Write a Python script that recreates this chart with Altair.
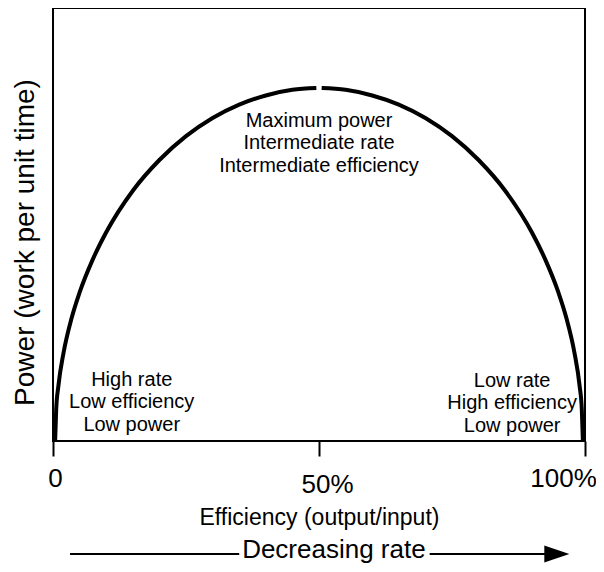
import altair as alt
import pandas as pd

FONT = "Liberation Sans"

# Curve (efficiency %, power in % of frame height)
efficiency = [0.4, 0.6, 1, 2, 3.5, 5, 7.5, 10, 15, 20, 25, 30, 35, 40, 45, 49.5,
              50.5, 55, 60, 65, 70, 75, 80, 85, 90, 92.5, 95, 96.5, 98, 99, 99.4, 99.6]
power = [0, 7.3, 12.6, 20.5, 28.4, 34.3, 42.0, 48.2, 57.8, 64.9, 70.4, 74.6, 77.7, 79.8, 81.1, 81.5,
         81.5, 81.1, 79.8, 77.7, 74.6, 70.4, 64.9, 57.8, 48.2, 42.0, 34.3, 28.4, 20.5, 12.6, 7.3, 0]
segment = ["left"] * 16 + ["right"] * 16

# Annotations
note_text = ["Maximum power", "Intermediate rate", "Intermediate efficiency",
             "High rate", "Low efficiency", "Low power",
             "Low rate", "High efficiency", "Low power"]
note_x = [50, 50, 50, 14.8, 14.8, 14.8, 86.3, 86.3, 86.3]
note_y = [73.9, 68.8, 63.5, 14.1, 9.0, 3.7, 13.9, 8.8, 3.5]

# Tick labels
tick_values = [0, 50, 100]
tick_labels = ["0", "50%", "100%"]

# "Decreasing rate" arrow (in data units, below the frame)
arrow_label = "Decreasing rate"
arrow_level = -26.1
arrow_label_level = -25.2
arrow_from = [3.2, 70.8]
arrow_to = [35.0, 92.5]
arrow_head_x = 94.7
arrow_label_x = 52.8

curve_df = pd.DataFrame({"efficiency": efficiency, "power": power, "segment": segment})
notes_df = pd.DataFrame({"x": note_x, "y": note_y, "text": note_text})
rules_df = pd.DataFrame({"x": arrow_from, "x2": arrow_to, "y": [arrow_level] * len(arrow_from)})
head_df = pd.DataFrame({"x": [arrow_head_x], "y": [arrow_level]})
caption_df = pd.DataFrame({"x": [arrow_label_x], "y": [arrow_label_level], "text": [arrow_label]})

label_expr = " : ".join(
    f"datum.value == {v} ? '{l}'" for v, l in zip(tick_values[:-1], tick_labels[:-1])
) + f" : '{tick_labels[-1]}'"

xscale = alt.Scale(domain=[0, 100], nice=False, zero=False)
yscale = alt.Scale(domain=[0, 100], nice=False, zero=False)

x_axis = alt.Axis(
    values=tick_values, labelExpr=label_expr,
    tickSize=15, tickWidth=2, tickColor="black",
    domain=False, grid=False, labelFlush=False, labelOverlap=False,
    labelFont=FONT, labelFontSize=26, labelColor="black", labelBaseline="middle",
    labelPadding={"condition": {"test": "datum.value == 50", "value": 28}, "value": 22},
    labelOffset={"condition": [{"test": "datum.value == 50", "value": 8},
                               {"test": "datum.value == 100", "value": -22}], "value": 2},
    title="Efficiency (output/input)", titleFont=FONT, titleFontSize=23,
    titleFontWeight="normal", titleColor="black", titleBaseline="middle", titleY=76,
)
y_axis = alt.Axis(
    title="Power (work per unit time)", labels=False, ticks=False, domain=False, grid=False,
    titleFont=FONT, titleFontSize=28, titleFontWeight="normal", titleColor="black",
    titleAngle=270, titleBaseline="middle", titleAlign="center", titleX=-28, titleY=234,
)

curve = alt.Chart(curve_df).mark_line(
    color="black", strokeWidth=4, interpolate="monotone", strokeCap="butt"
).encode(
    x=alt.X("efficiency:Q", scale=xscale, axis=x_axis),
    y=alt.Y("power:Q", scale=yscale, axis=y_axis),
    detail="segment:N",
)

notes = alt.Chart(notes_df).mark_text(
    font=FONT, fontSize=20, color="black", align="center", baseline="middle"
).encode(x="x:Q", y="y:Q", text="text:N")

rules = alt.Chart(rules_df).mark_rule(color="black", strokeWidth=2).encode(
    x="x:Q", x2="x2:Q", y="y:Q"
)

head = alt.Chart(head_df).mark_point(
    shape="M-1,-0.68L1,0L-1,0.68Z", size=625, filled=True, color="black", opacity=1, strokeWidth=0
).encode(x="x:Q", y="y:Q")

caption = alt.Chart(caption_df).mark_text(
    font=FONT, fontSize=26, color="black", align="center", baseline="middle"
).encode(x="x:Q", y="y:Q", text="text:N")

chart = alt.layer(curve, notes, rules, head, caption).properties(
    width=532, height=433,
    autosize=alt.AutoSizeParams(type="none"),
    padding={"left": 45, "top": 0, "right": 11, "bottom": 123},
    background="white",
).configure_view(stroke="black", strokeWidth=2)

chart.save("out.html", embed_options={"renderer": "svg", "actions": False})
